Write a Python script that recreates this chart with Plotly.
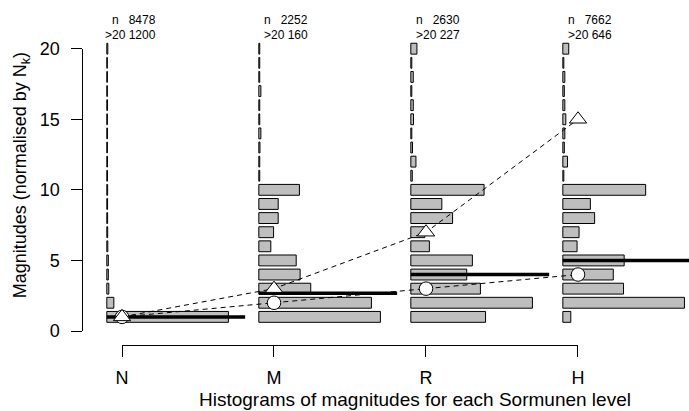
import plotly.graph_objects as go

# Sormunen levels and their positions on the x axis
levels = ["N", "M", "R", "H"]
level_pos = [1, 2, 3, 4]
n_total = [8478, 2252, 2630, 7662]
n_over20 = [1200, 160, 227, 646]

# magnitude bins (normalised by N_k), 1..20
bins = list(range(1, 21))
counts_N = [6124, 354, 101, 76, 76, 51, 45, 40, 38, 42, 36, 34, 30, 32, 30, 34, 28, 30, 26, 51]
counts_M = [527, 488, 225, 179, 162, 52, 64, 84, 84, 176, 4, 4, 5, 9, 4, 4, 9, 4, 4, 4]
counts_R = [306, 498, 285, 229, 252, 76, 57, 171, 127, 300, 6, 21, 7, 4, 11, 10, 4, 10, 4, 25]
counts_H = [112, 1709, 853, 709, 862, 200, 228, 447, 387, 1164, 14, 66, 21, 28, 42, 28, 21, 28, 14, 83]
level_counts = [counts_N, counts_M, counts_R, counts_H]

# summary values per level
mean_vals = [1.0, 3.0, 7.0, 15.0]      # triangles
median_vals = [1.0, 2.0, 3.0, 4.0]     # circles
ref_vals = [1.0, 2.67, 4.0, 5.0]       # thick horizontal lines

# drawing parameters
HIST_OFFSET = -0.1   # histogram baseline relative to the level position
HIST_MAXW = 0.8      # width of the tallest bin in x units
BAR_H = 0.77         # bar thickness in magnitude units
REF_END = 0.81       # right end of thick line relative to level position
TEXT_DX = 0.235      # right edge of the count labels relative to level position
FONT = "Liberation Sans, Arial, Helvetica, sans-serif"

fig = go.Figure()

for pos, counts in zip(level_pos, level_counts):
    cmax = max(counts)
    fig.add_trace(go.Bar(
        orientation="h",
        y=bins,
        x=[HIST_MAXW * c / cmax for c in counts],
        base=pos + HIST_OFFSET,
        width=BAR_H,
        marker=dict(color="#bebebe", line=dict(color="black", width=1)),
        showlegend=False,
        hoverinfo="skip",
    ))

for pos, v in zip(level_pos, ref_vals):
    fig.add_trace(go.Scatter(
        x=[pos + HIST_OFFSET, pos + REF_END], y=[v, v],
        mode="lines", line=dict(color="black", width=3.5),
        showlegend=False, hoverinfo="skip",
    ))

for vals in (mean_vals, median_vals):
    fig.add_trace(go.Scatter(
        x=level_pos, y=vals, mode="lines",
        line=dict(color="black", width=1, dash="5px,4px"),
        showlegend=False, hoverinfo="skip",
    ))

fig.add_trace(go.Scatter(
    x=level_pos, y=median_vals, mode="markers",
    marker=dict(symbol="circle", size=13.5, color="white",
                line=dict(color="black", width=1)),
    showlegend=False, hoverinfo="skip",
))
fig.add_trace(go.Scatter(
    x=level_pos, y=mean_vals, mode="markers",
    marker=dict(symbol="triangle-up", size=15, color="white",
                line=dict(color="black", width=1)),
    showlegend=False, hoverinfo="skip",
))

# empty trace that carries the visible axes
fig.add_trace(go.Scatter(x=[], y=[], xaxis="x2", yaxis="y2",
                         showlegend=False, hoverinfo="skip"))

# counts above each histogram
annotations = []
for pos, n, k in zip(level_pos, n_total, n_over20):
    annotations.append(dict(
        x=pos + TEXT_DX, y=22, xref="x", yref="y",
        text="n\u00a0\u00a0\u00a0" + str(n), showarrow=False,
        xanchor="right", yanchor="middle",
        font=dict(family=FONT, size=12, color="black"),
    ))
    annotations.append(dict(
        x=pos + TEXT_DX, y=21, xref="x", yref="y",
        text=">20\u00a0" + str(k), showarrow=False,
        xanchor="right", yanchor="middle",
        font=dict(family=FONT, size=12, color="black"),
    ))

annotations.append(dict(
    x=-0.0993, y=0.491, xref="paper", yref="paper",
    text="Magnitudes (normalised by N<sub>k</sub>)", textangle=-90,
    showarrow=False, xanchor="center", yanchor="middle",
    font=dict(family=FONT, size=18, color="black"),
))
annotations.append(dict(
    x=0.549, y=-0.1575, xref="paper", yref="paper",
    text="Histograms of magnitudes for each Sormunen level",
    showarrow=False, xanchor="center", yanchor="middle",
    font=dict(family=FONT, size=19, color="black"),
))

fig.update_layout(
    width=689, height=411,
    margin=dict(l=82, r=0, t=0, b=66, autoexpand=False),
    paper_bgcolor="white", plot_bgcolor="rgba(0,0,0,0)",
    barmode="overlay",
    font=dict(family=FONT, size=18, color="black"),
    xaxis=dict(range=[0.7368, 4.730], visible=False, fixedrange=True),
    yaxis=dict(range=[-0.992, 23.45], visible=False, fixedrange=True),
    xaxis2=dict(
        domain=[0.0659, 0.8171], range=[1, 4], anchor="free", position=0,
        tickvals=level_pos, ticktext=levels,
        showline=True, linecolor="black", linewidth=1,
        ticks="outside", ticklen=10.7, tickwidth=1, tickcolor="black",
        showgrid=False, zeroline=False, ticklabelstandoff=6,
        tickfont=dict(family=FONT, size=18, color="black"),
    ),
    yaxis2=dict(
        domain=[0.04058, 0.8588], range=[0, 20], anchor="free", position=0,
        tickvals=[0, 5, 10, 15, 20],
        showline=True, linecolor="black", linewidth=1,
        ticks="outside", ticklen=10.7, tickwidth=1, tickcolor="black",
        showgrid=False, zeroline=False, ticklabelstandoff=8,
        tickfont=dict(family=FONT, size=18, color="black"),
    ),
    annotations=annotations,
)

fig.write_html("out.html")
